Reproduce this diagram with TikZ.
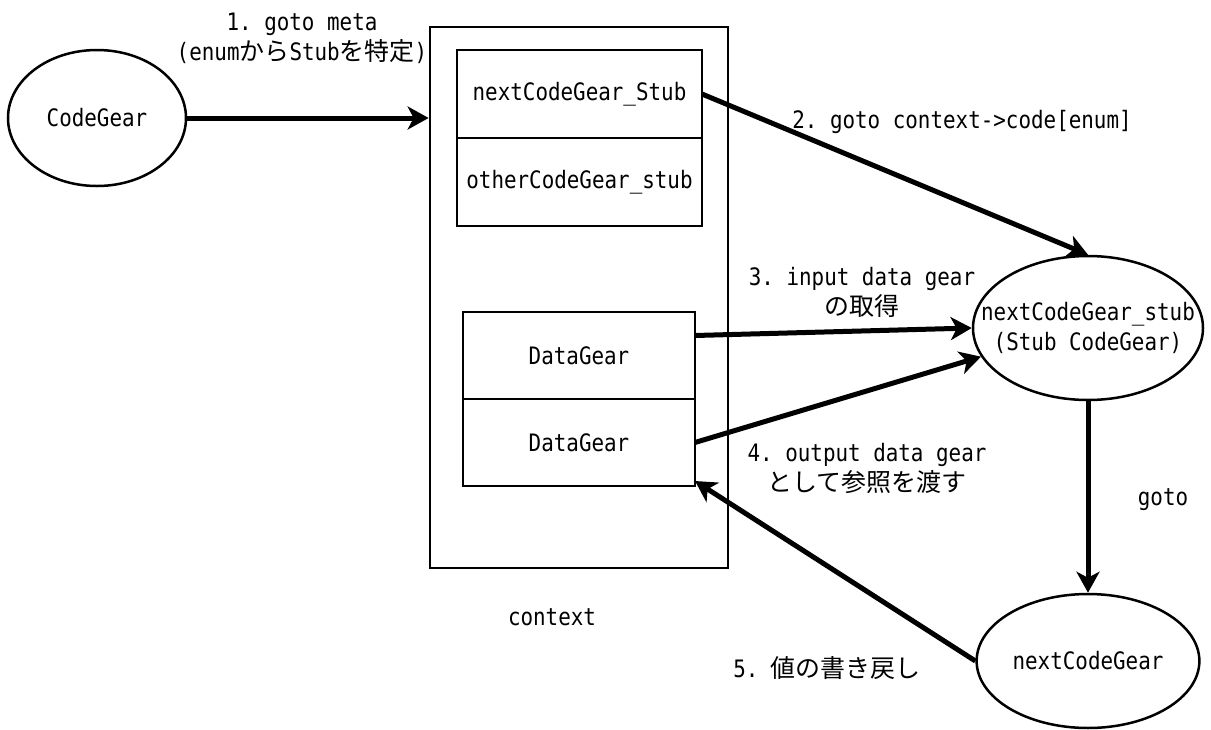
\documentclass[tikz,border=0pt]{standalone}
\usepackage{fontspec}
\setmainfont[FakeStretch=0.87]{DejaVu Sans Mono}
\newfontfamily\jpfont[Scale=1.04]{Noto Sans CJK JP}
\newcommand{\ja}[1]{{\jpfont #1}}
\usetikzlibrary{shapes.geometric,arrows.meta,positioning}
\frenchspacing

\begin{document}
\begin{tikzpicture}[
    x=1pt, y=-1pt,
    font=\fontsize{24}{30}\selectfont,
    box/.style={rectangle, draw, line width=2.7pt, outer sep=0pt, minimum width=245pt, minimum height=88pt, align=center},
    gear/.style={ellipse, draw, line width=2.5pt, align=center},
    arrow/.style={-{Stealth[length=21pt,width=23pt,inset=6pt]}, line width=5pt},
    note/.style={align=center}
]
    \useasboundingbox (0,0) rectangle (1211,729);

    % Context
    \node[draw, line width=2.7pt, minimum width=298pt, minimum height=541pt] (context) at (579,297.5) {};
    \node (ctxlabel) at (552,617) {context};

    % Stubs
    \node[box] (stubbox) at (579.5,94) {nextCodeGear\_Stub};
    \node[box, below=0pt of stubbox] (otherbox) {otherCodeGear\_stub};

    % Data gears
    \node[box, minimum width=232pt, minimum height=87pt] (data1) at (579,355.5) {DataGear};
    \node[box, minimum width=232pt, minimum height=87pt, below=0pt of data1] (data2) {DataGear};

    % Code gears
    \node[gear, minimum width=178pt, minimum height=136pt] (codegear) at (97,118) {CodeGear};
    \node[gear, minimum width=230pt, minimum height=144pt, label={[note]center:{nextCodeGear\_stub\\(Stub CodeGear)}}] (stub) at (1088,328) {};
    \node[gear, minimum width=215pt, minimum height=134pt] (nextgear) at (1088,661) {nextCodeGear};

    % Labels
    \node[note] (lbl1) at (302,38) {1. goto meta\\(enum\ja{から}Stub\ja{を特定})};
    \node[note] (lbl2) at (962,122) {2. goto context->code[enum]};
    \node[note] (lbl3) at (862,292) {3. input data gear\\\ja{の取得}};
    \node[note] (lbl4) at (867,468) {4. output data gear\\\ja{として参照を渡す}};
    \node[note] (lblgoto) at (1163,500) {goto};
    \node[note] (lbl5) at (827,668) {5. \ja{値の書き戻し}};

    % Arrows
    \draw[arrow] (codegear.east) -- (codegear.east -| context.west);
    \draw[arrow] (stubbox.east) -- (stub.north);
    \draw[arrow] ([yshift=20pt]data1.east) -- (stub.west);
    \draw[arrow] (data2.east) -- (stub.195);
    \draw[arrow] (stub.south) -- (nextgear.north);
    \draw[arrow] (nextgear.west) -- ([yshift=5pt]data2.south east);

\end{tikzpicture}
\end{document}
